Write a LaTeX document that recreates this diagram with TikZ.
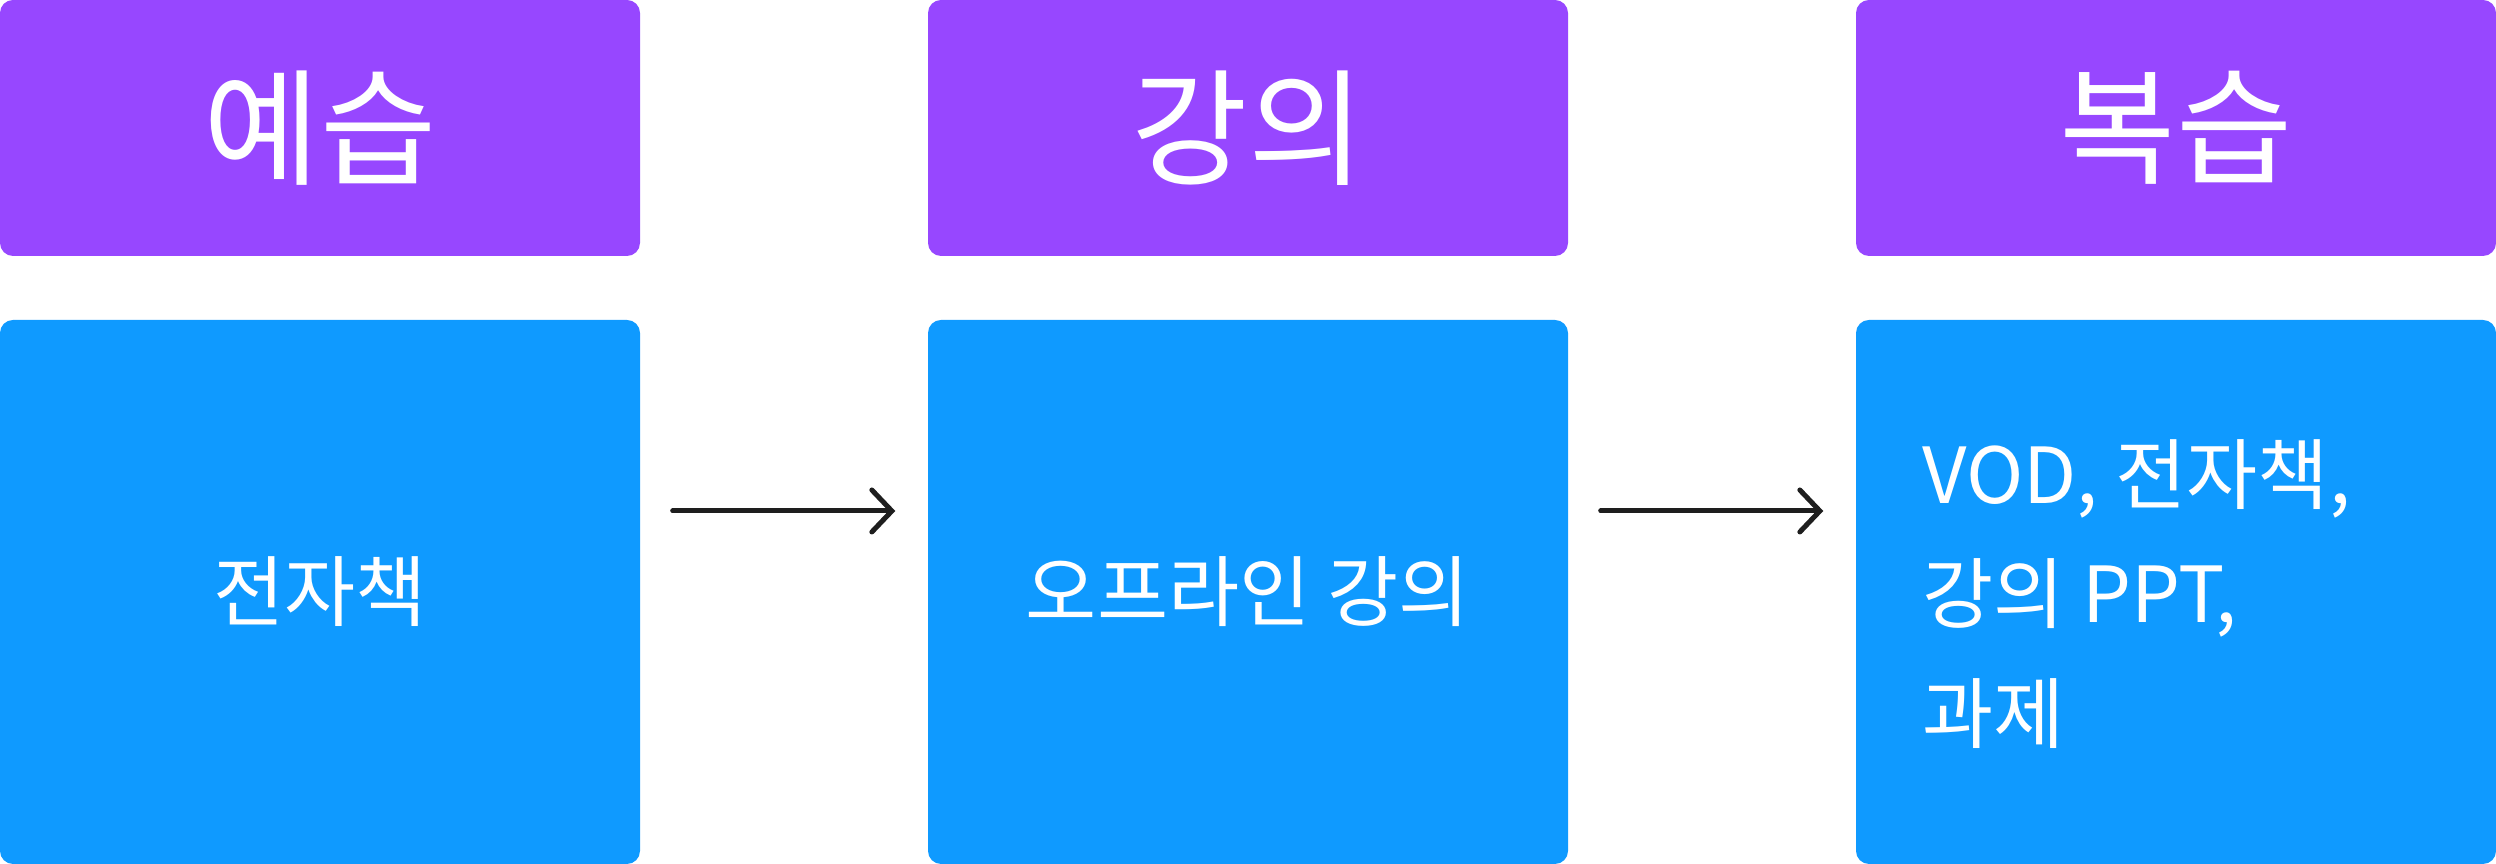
\documentclass[tikz,border=0pt]{standalone}
\usepackage{fontspec}
\setmainfont{Noto Sans CJK KR}
\usetikzlibrary{arrows.meta}
\definecolor{stagepurple}{HTML}{9747FF}
\definecolor{stageblue}{HTML}{0F9AFF}
\definecolor{arrowgray}{HTML}{1E1E1E}
\begin{document}
\begin{tikzpicture}
	\tikzstyle{head}=[rectangle, fill=stagepurple, rounded corners=0.13cm, minimum width=6.4cm, minimum height=2.56cm, inner sep=0pt, text=white, font=\fontsize{36}{43}\selectfont]
	\tikzstyle{body}=[rectangle, fill=stageblue, rounded corners=0.13cm, minimum width=6.4cm, minimum height=5.44cm, inner sep=0pt]
	\tikzstyle{note}=[text=white, inner sep=0pt, font=\fontsize{22}{34.1}\selectfont]
	\tikzstyle{flow}=[-{Straight Barb[length=0.2cm, width=0.42cm, line cap=round]}, draw=arrowgray, line width=0.05cm, line cap=round, shorten <=0.32cm, shorten >=0.32cm]
	\useasboundingbox (0, 0) rectangle (24.96, 8.64);
	\draw node[head] at (3.2, 7.36) (pre) {예습};
	\draw node[head] at (12.48, 7.36) (lec) {강의};
	\draw node[head] at (21.76, 7.36) (rev) {복습};
	\draw node[body] at (3.2, 2.72) (prebox) {};
	\draw node[body] at (12.48, 2.72) (lecbox) {};
	\draw node[body] at (21.76, 2.72) (revbox) {};
	\draw node[note] at (3.2, 2.72) (pretext) {전자책};
	\draw node[note] at (12.48, 2.72) (lectext) {오프라인 강의};
	\draw node[note, anchor=west, align=left] at (19.22, 2.7) (revtext) {VOD, 전자책,\\강의 PPT,\\과제};
	
	\draw [flow] ([yshift=0.81cm]prebox.east) -- ([yshift=0.81cm]lecbox.west);
	\draw [flow] ([yshift=0.81cm]lecbox.east) -- ([yshift=0.81cm]revbox.west);
\end{tikzpicture}
\end{document}
